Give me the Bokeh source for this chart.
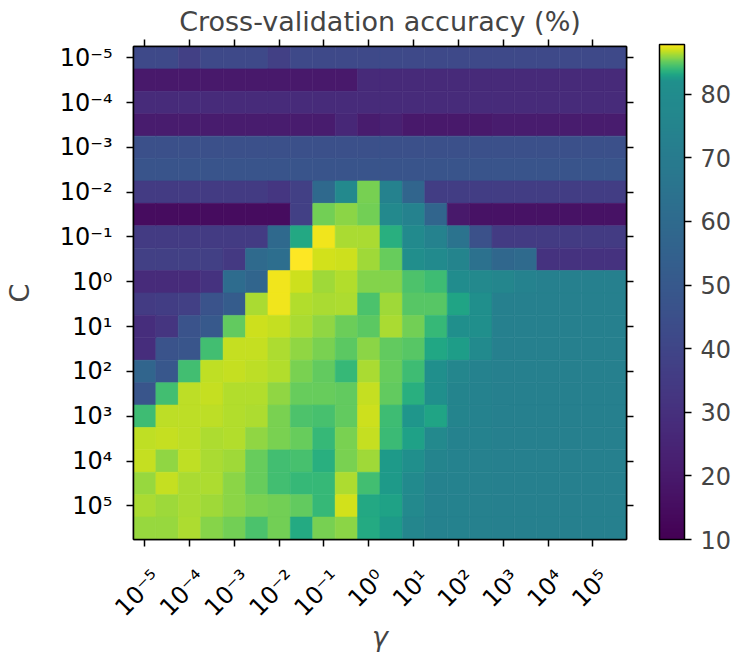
import numpy as np
from bokeh.plotting import figure
from bokeh.models import (ColumnDataSource, LinearColorMapper, ColorBar, FixedTicker,
                          LinearAxis, Range1d)
from bokeh.palettes import Viridis256
from bokeh.transform import transform
from bokeh.embed import file_html
from bokeh.resources import INLINE

# Grid of log10(gamma) (columns) and log10(C) (rows)
gamma_exponents = [-5.0, -4.5, -4.0, -3.5, -3.0, -2.5, -2.0, -1.5, -1.0, -0.5, 0.0,
                   0.5, 1.0, 1.5, 2.0, 2.5, 3.0, 3.5, 4.0, 4.5, 5.0, 5.5]
c_exponents = [-5.0, -4.5, -4.0, -3.5, -3.0, -2.5, -2.0, -1.5, -1.0, -0.5, 0.0,
               0.5, 1.0, 1.5, 2.0, 2.5, 3.0, 3.5, 4.0, 4.5, 5.0, 5.5]

tick_exponents = [-5, -4, -3, -2, -1, 0, 1, 2, 3, 4, 5]
tick_labels = ["10⁻⁵", "10⁻⁴", "10⁻³", "10⁻²", "10⁻¹", "10⁰",
               "10¹", "10²", "10³", "10⁴", "10⁵"]
colorbar_ticks = [10, 20, 30, 40, 50, 60, 70, 80]

# Cross-validation accuracy (%), one list per C value, one entry per gamma value
acc_c00 = [42, 42, 37.5, 42, 42, 42, 37.5, 42, 42, 42, 42, 42, 42, 42, 42, 42, 42, 42, 42, 42, 42, 42]
acc_c01 = [20, 20, 20, 20, 20, 20, 20, 20, 20, 20, 27, 27, 27, 27, 27, 27, 27, 27, 27, 27, 27, 27]
acc_c02 = [28, 28, 28, 28, 28, 28, 28, 28, 28, 28, 28, 28, 28, 28, 28, 28, 28, 28, 28, 28, 28, 28]
acc_c03 = [21, 21, 21, 21, 21, 21, 21, 21, 21, 26, 21, 23, 20, 20, 20, 20, 21, 21, 21, 21, 21, 21]
acc_c04 = [45, 45, 45, 45, 45, 45, 45, 45, 45, 45, 45, 45, 45, 45, 45, 45, 45, 45, 45, 45, 45, 45]
acc_c05 = [47.5, 47.5, 47.5, 47.5, 47.5, 47.5, 47.5, 47.5, 47.5, 47.5, 47.5, 47.5, 47.5, 47.5, 47.5, 47.5, 47.5, 47.5, 47.5, 47.5, 47.5, 47.5]
acc_c06 = [35, 35, 35, 35, 35, 35, 33, 37, 59, 78, 85.4, 74, 57, 36, 36, 36, 36, 36, 36, 36, 36, 36]
acc_c07 = [15, 15, 15, 15, 15, 15, 15, 37, 85.3, 85.8, 85.3, 78, 74, 57, 20, 17, 17, 17, 17, 17, 17, 17]
acc_c08 = [35, 35, 35, 35, 35, 35, 59, 83.2, 87.5, 86.3, 86.3, 83.5, 79, 74, 65, 46, 35, 35, 35, 35, 35, 35]
acc_c09 = [37, 37, 37, 37, 34, 60, 62, 87.8, 87.0, 86.9, 86.2, 85.1, 81, 79, 75, 64, 58, 60, 31, 31, 31, 31]
acc_c10 = [28, 28, 28, 31, 61, 57, 87.5, 86.9, 86.2, 86.5, 85.6, 85.6, 84.6, 84.2, 80, 78, 76, 74, 72.5, 72.5, 72.5, 72.5]
acc_c11 = [35, 36, 37, 47, 52, 86.3, 87.5, 86.5, 86.3, 86.4, 84.5, 86.2, 84.8, 84.8, 83, 82, 72.5, 72.5, 72.5, 72.5, 72.5, 72.5]
acc_c12 = [29, 32, 47, 50, 85, 86.9, 86.8, 86.3, 85.9, 85.2, 84.9, 86.3, 85.3, 84, 81.5, 81.5, 72.5, 72.5, 72.5, 72.5, 72.5, 72.5]
acc_c13 = [29, 47, 48, 84.3, 86.8, 86.8, 86.4, 85.9, 85.5, 84.9, 85.8, 85, 84.8, 83.1, 82.7, 79, 72.5, 72.5, 72.5, 72.5, 72.5, 72.5]
acc_c14 = [57, 49, 84.3, 86.7, 86.8, 86.6, 86.5, 85.5, 85, 84, 86.3, 85.1, 84.2, 82, 76, 74, 72.5, 72.5, 72.5, 72.5, 72.5, 72.5]
acc_c15 = [48, 84.3, 86.6, 86.8, 86.5, 86.5, 85.9, 85.1, 85.1, 85, 86.8, 85, 83.5, 81.5, 75, 74, 72.5, 72.5, 72.5, 72.5, 72.5, 72.5]
acc_c16 = [84.2, 86.6, 86.6, 86.6, 86.5, 86.4, 85.5, 84.6, 84.4, 85, 86.9, 84.2, 82.3, 83, 75, 74, 72.5, 72.5, 72.5, 72.5, 72.5, 72.5]
acc_c17 = [86.7, 86.8, 86.6, 86.4, 86.5, 85.9, 85.5, 85.1, 84, 85.5, 86.8, 84.1, 82.8, 78, 74, 74, 72.5, 72.5, 72.5, 72.5, 72.5, 72.5]
acc_c18 = [86.8, 85.9, 86.7, 86.3, 86.2, 85.1, 84.3, 84.4, 83.5, 85.5, 86.2, 82.5, 82, 75, 74, 73.5, 72.5, 72.5, 72.5, 72.5, 72.5, 72.5]
acc_c19 = [86, 86.8, 86.3, 86.4, 85.8, 85.1, 84.3, 84, 84, 86.4, 84.3, 82.5, 79, 74, 74, 73.5, 72.5, 72.5, 72.5, 72.5, 72.5, 72.5]
acc_c20 = [86.3, 86.1, 86.3, 86.2, 85.8, 85.5, 85.3, 85, 84, 87, 83.2, 82.9, 78, 74, 74, 73.5, 72.5, 72.5, 72.5, 72.5, 72.5, 72.5]
acc_c21 = [86, 86, 86.4, 85.7, 85.3, 84.5, 85.3, 83.3, 85.4, 85.8, 83.3, 82.5, 76, 74, 74, 73.5, 72.5, 72.5, 72.5, 72.5, 72.5, 72.5]

accuracy = [acc_c00, acc_c01, acc_c02, acc_c03, acc_c04, acc_c05, acc_c06, acc_c07,
            acc_c08, acc_c09, acc_c10, acc_c11, acc_c12, acc_c13, acc_c14, acc_c15,
            acc_c16, acc_c17, acc_c18, acc_c19, acc_c20, acc_c21]

# Midpoint normalisation: the lower half of viridis spans vmin..vmid,
# the upper half spans vmid..vmax, so differences near the top stand out.
vmin, vmid = 10.0, 82.0
vmax = max(max(row) for row in accuracy)


def midpoint_norm(v):
    if v <= vmid:
        return 0.5 * (v - vmin) / (vmid - vmin)
    return 0.5 + 0.5 * (v - vmid) / (vmax - vmid)


n_colors = 1024
palette = []
for k in range(n_colors):
    v = vmin + (k + 0.5) * (vmax - vmin) / n_colors
    palette.append(Viridis256[min(255, int(midpoint_norm(v) * 256))])
mapper = LinearColorMapper(palette=palette, low=vmin, high=vmax)

xs, ys, vals = [], [], []
for j, row in enumerate(accuracy):
    for i, v in enumerate(row):
        xs.append(gamma_exponents[i])
        ys.append(c_exponents[j])
        vals.append(v)
source = ColumnDataSource(dict(gamma=xs, C=ys, acc=vals))

FONT = "DejaVu Sans"
x_lo, x_hi = -5.25, 5.75
c_top, c_bottom = -5.25, 5.75

p = figure(width=734, height=655, output_backend="svg", toolbar_location=None,
           x_range=Range1d(x_lo, x_hi), y_range=Range1d(c_bottom, c_top),
           min_border_left=131, min_border_right=108,
           min_border_top=46, min_border_bottom=114)
p.background_fill_color = "white"
p.border_fill_color = "white"
p.outline_line_color = "black"
p.outline_line_width = 1.5
p.grid.grid_line_color = None

p.rect(x="gamma", y="C", width=0.5, height=0.5, source=source,
       fill_color=transform("acc", mapper), line_color=transform("acc", mapper),
       line_width=0.6)


def style_axis(ax, labels=None):
    ax.ticker = FixedTicker(ticks=tick_exponents)
    ax.major_tick_out = 7
    ax.major_tick_in = 0
    ax.major_tick_line_width = 1.5
    ax.major_tick_line_color = "black"
    ax.minor_tick_line_color = None
    ax.axis_line_width = 1.5
    ax.axis_line_color = "black"
    if labels is not None:
        ax.major_label_overrides = {t: lab for t, lab in zip(tick_exponents, labels)}
        ax.major_label_text_font = FONT
        ax.major_label_text_font_size = "24px"
        ax.major_label_text_color = "black"
    else:
        # tick marks only
        ax.major_label_text_font_size = "1px"
        ax.major_label_text_color = None
        ax.major_label_standoff = 0


xax = p.xaxis[0]
yax = p.yaxis[0]
# a leading empty line pushes each rotated label off to the lower right,
# so that it sits centred under its tick
style_axis(xax, ["\n" + lab for lab in tick_labels])
style_axis(yax, tick_labels)
xax.major_label_orientation = np.pi / 4
xax.major_label_standoff = 16
yax.major_label_standoff = 14

xax.axis_label = "γ"
xax.axis_label_text_font = FONT
xax.axis_label_text_font_size = "27px"
xax.axis_label_text_font_style = "italic"
xax.axis_label_standoff = -25
yax.axis_label = "C"
yax.axis_label_text_font = FONT
yax.axis_label_text_font_size = "27px"
yax.axis_label_text_font_style = "normal"
yax.axis_label_standoff = 22

top_ax = LinearAxis()
style_axis(top_ax)
p.add_layout(top_ax, "above")
right_ax = LinearAxis()
style_axis(right_ax)
p.add_layout(right_ax, "right")

cb = ColorBar(color_mapper=mapper, ticker=FixedTicker(ticks=colorbar_ticks),
              width=25, height=495, padding=0, margin=0, location=(526, 0),
              major_label_text_font=FONT, major_label_text_font_size="24px",
              major_tick_out=7, major_tick_in=0, major_tick_line_color="black",
              major_tick_line_width=1.5, minor_tick_line_color=None,
              bar_line_color="black", bar_line_width=1.5,
              border_line_color=None, background_fill_alpha=0, label_standoff=9)
p.add_layout(cb, "center")

p.title.text = "Cross-validation accuracy (%)"
p.title.align = "center"
p.title.text_font = FONT
p.title.text_font_size = "27px"
p.title.text_font_style = "normal"
p.title.standoff = 6

open("out.html", "w").write(file_html(p, INLINE))
